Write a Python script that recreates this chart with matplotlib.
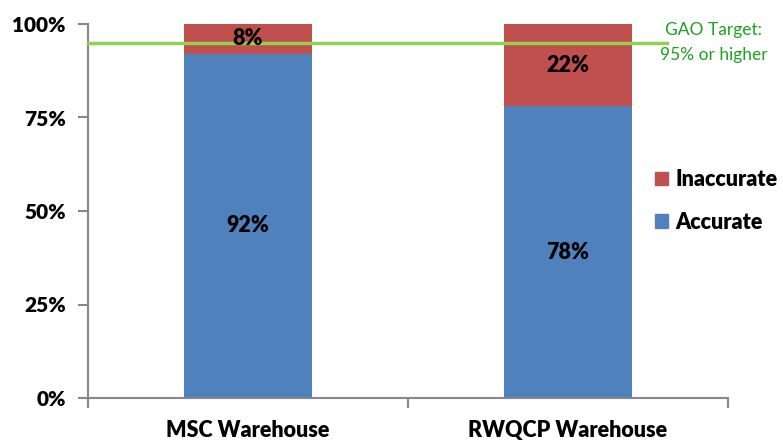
import matplotlib
matplotlib.use("Agg")
import matplotlib.pyplot as plt
from matplotlib.patches import Patch

categories = ["MSC Warehouse", "RWQCP Warehouse"]
accurate = [92, 78]
inaccurate = [8, 22]
target = 95
yticks = [0, 25, 50, 75, 100]
ytick_labels = ["0%", "25%", "50%", "75%", "100%"]

plt.rcParams['font.family'] = ['Lato', 'DejaVu Sans']

blue = "#4F81BD"
red = "#C0504D"
gray = "#878787"
FW = "heavy"

fig = plt.figure(figsize=(7.83, 4.4), dpi=100)
ax = fig.add_axes([88/783, 1-398/440, (728-88)/783, (398-24)/440])

x = [0.5, 1.5]
w = 0.4
ax.bar(x, accurate, width=w, color=blue, zorder=2)
ax.bar(x, inaccurate, width=w, bottom=accurate, color=red, zorder=2)

for xi, a, b in zip(x, accurate, inaccurate):
    ax.text(xi, a/2, f"{a}%", ha="center", va="center", fontsize=15.5, fontweight=FW, color="black", zorder=4)
    ax.text(xi, a + b/2, f"{b}%", ha="center", va="center", fontsize=15.5, fontweight=FW, color="black", zorder=4)

ax.set_xlim(0, 2)
ax.set_ylim(0, 100)

# target line extending beyond axes
ax.plot([0, 1.81], [target, target], color="#92D050", lw=2.5, zorder=3, clip_on=False)
ax.text(1.956, 98.4, "GAO Target:", ha="center", va="center", fontsize=12.5, color="#1FA01F")
ax.text(1.956, 91.7, "95% or higher", ha="center", va="center", fontsize=12.5, color="#1FA01F")

ax.set_yticks(yticks)
ax.set_yticklabels(ytick_labels, fontsize=15, fontweight=FW)
ax.set_xticks([0, 1, 2])
ax.set_xticklabels([])
ax.set_xticks(x, minor=True)
ax.set_xticklabels(categories, minor=True, fontsize=15.5, fontweight=FW)
ax.tick_params(axis="x", which="minor", length=0, pad=16)
ax.tick_params(axis="x", which="major", length=7, width=1.5, color=gray, direction="out")
ax.tick_params(axis="y", length=7, width=1.5, color=gray, direction="out", pad=9)

for s in ["top", "right"]:
    ax.spines[s].set_visible(False)
for s in ["left", "bottom"]:
    ax.spines[s].set_color(gray)
    ax.spines[s].set_linewidth(1.5)

handles = [Patch(color=red, label="Inaccurate"), Patch(color=blue, label="Accurate")]
leg = fig.legend(handles=handles, loc="center left", bbox_to_anchor=(655/783, 1-201/440),
                 frameon=False, prop={"size": 15.5, "weight": FW},
                 handlelength=0.6, handleheight=0.6, handletextpad=0.35, labelspacing=1.0,
                 borderpad=0, borderaxespad=0)

fig.savefig("out.png", dpi=100)
